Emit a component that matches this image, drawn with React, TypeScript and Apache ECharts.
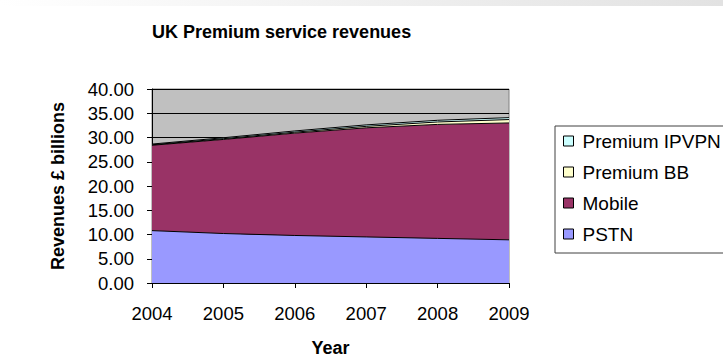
import React, { useEffect, useRef } from "react";
import * as echarts from "echarts";

const years = ["2004", "2005", "2006", "2007", "2008", "2009"];
const pstn = [10.8, 10.2, 9.8, 9.5, 9.2, 8.9];
const mobile = [17.6, 19.4, 21.1, 22.5, 23.5, 24.1];
const premiumBB = [0.1, 0.15, 0.2, 0.3, 0.5, 0.7];
const premiumIPVPN = [0.15, 0.2, 0.25, 0.3, 0.35, 0.4];
const legendOrder = ["Premium IPVPN", "Premium BB", "Mobile", "PSTN"];

const FONT = "'Liberation Sans', Arial, sans-serif";

export default function App() {
  const ref = useRef<HTMLDivElement>(null);
  useEffect(() => {
    document.body.style.margin = "0";
    const chart = echarts.init(ref.current!, null, { renderer: "svg" });
    const mk = (name: string, data: number[], color: string) => ({
      name,
      type: "line",
      stack: "total",
      data,
      symbol: "none",
      color,
      lineStyle: { color: "#000", width: 1 },
      areaStyle: { color, opacity: 1 },
      itemStyle: { color },
    });
    chart.setOption({
      animation: false,
      backgroundColor: "#ffffff",
      title: {
        text: "UK Premium service revenues",
        left: 147,
        top: 18,
        textStyle: { fontFamily: FONT, fontSize: 18, fontWeight: "bold", color: "#000" },
      },
      graphic: [
        {
          type: "rect",
          shape: { x: 0, y: 0, width: 723, height: 6 },
          style: {
            fill: new echarts.graphic.LinearGradient(0, 0, 1, 0, [
              { offset: 0, color: "#ffffff" },
              { offset: 1, color: "#e2e2e2" },
            ]),
          },
          silent: true,
        },
        {
          type: "rect",
          shape: { x: 555, y: 126, width: 200, height: 127 },
          style: { fill: "none", stroke: "#404040", lineWidth: 1 },
          silent: true,
        },
      ],
      legend: {
        data: legendOrder,
        orient: "vertical",
        left: 563,
        top: 131,
        padding: 0,
        icon: "rect",
        itemWidth: 10,
        itemHeight: 10,
        itemGap: 11,
        itemStyle: { borderColor: "#000", borderWidth: 1 },
        textStyle: { fontFamily: FONT, fontSize: 19, color: "#000", lineHeight: 20, padding: [0, 0, 0, 4] },
      },
      grid: {
        left: 152,
        right: 214,
        top: 89,
        bottom: 75,
        show: true,
        backgroundColor: "#C0C0C0",
        borderColor: "#808080",
        borderWidth: 1,
      },
      xAxis: {
        type: "category",
        data: years,
        boundaryGap: false,
        name: "Year",
        nameLocation: "middle",
        nameGap: 56,
        nameTextStyle: { fontFamily: FONT, fontSize: 18, fontWeight: "bold", color: "#000" },
        axisLine: { lineStyle: { color: "#000", width: 1 } },
        axisTick: { show: true, length: 5, inside: false, lineStyle: { color: "#000" } },
        axisLabel: { fontFamily: FONT, fontSize: 18.5, color: "#000", margin: 21 },
        splitLine: { show: false },
      },
      yAxis: {
        type: "value",
        min: 0,
        max: 40,
        interval: 5,
        name: "Revenues £ billions",
        nameLocation: "middle",
        nameGap: 85,
        nameTextStyle: { fontFamily: FONT, fontSize: 18, fontWeight: "bold", color: "#000" },
        axisLine: { show: true, lineStyle: { color: "#000", width: 1 } },
        axisTick: { show: true, length: 5, lineStyle: { color: "#000" } },
        axisLabel: {
          fontFamily: FONT,
          fontSize: 18.5,
          color: "#000",
          margin: 18,
          formatter: (v: number) => v.toFixed(2),
        },
        splitLine: { show: true, lineStyle: { color: "#000", width: 1 } },
      },
      series: [
        mk("PSTN", pstn, "#9999FF"),
        mk("Mobile", mobile, "#993366"),
        mk("Premium BB", premiumBB, "#FFFFCC"),
        mk("Premium IPVPN", premiumIPVPN, "#CCFFFF"),
      ],
    });
    return () => chart.dispose();
  }, []);
  return <div ref={ref} style={{ width: 723, height: 362 }} />;
}
